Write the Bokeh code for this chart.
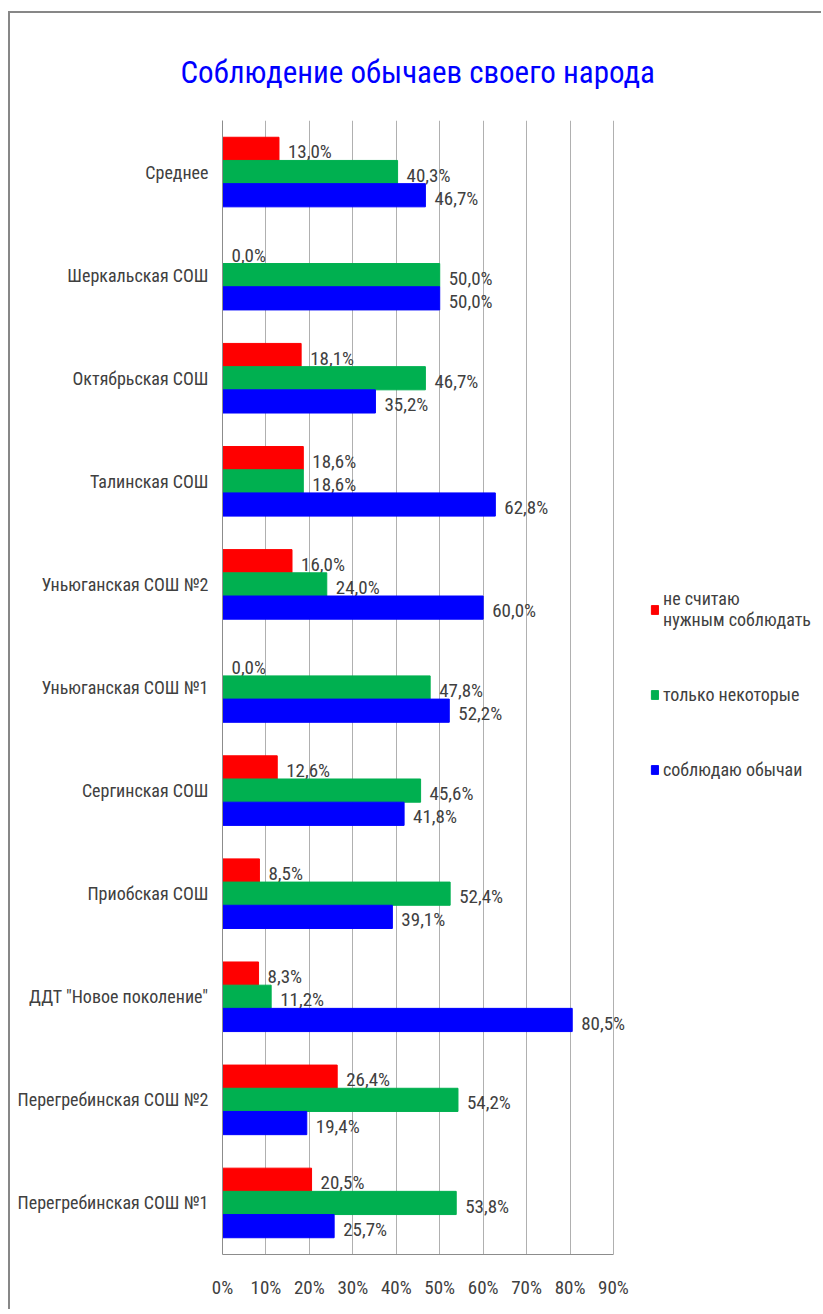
from bokeh.plotting import figure
from bokeh.models import FactorRange, Range1d, FixedTicker, Legend, LegendItem, ColumnDataSource
from bokeh.transform import dodge
from bokeh.core.properties import value
from bokeh.embed import file_html
from bokeh.resources import INLINE

FONT = "'Roboto Condensed', 'Liberation Sans Narrow', Roboto, sans-serif"

# Data (top to bottom as in the chart)
categories = [
    "Среднее",
    "Шеркальская СОШ",
    "Октябрьская СОШ",
    "Талинская СОШ",
    "Уньюганская СОШ №2",
    "Уньюганская СОШ №1",
    "Сергинская СОШ",
    "Приобская СОШ",
    'ДДТ "Новое поколение"',
    "Перегребинская СОШ №2",
    "Перегребинская СОШ №1",
]
not_needed = [13.0, 0.0, 18.1, 18.6, 16.0, 0.0, 12.6, 8.5, 8.3, 26.4, 20.5]
only_some = [40.3, 50.0, 46.7, 18.6, 24.0, 47.8, 45.6, 52.4, 11.2, 54.2, 53.8]
observe = [46.7, 50.0, 35.2, 62.8, 60.0, 52.2, 41.8, 39.1, 80.5, 19.4, 25.7]
series_names = ["не считаю\nнужным соблюдать", "только некоторые", "соблюдаю обычаи"]
series_colors = ["#FF0000", "#00B050", "#0000FF"]
x_ticks = [0, 10, 20, 30, 40, 50, 60, 70, 80, 90]


def fmt(v):
    return f"{v:.1f}%".replace(".", ",")


W, H = 813, 1298
LEFT = 212
PX_PER_UNIT = 391 / 90.0

p = figure(
    width=W, height=H,
    y_range=FactorRange(*categories[::-1]),
    x_range=Range1d(0, (W - LEFT) / PX_PER_UNIT),
    output_backend="svg", toolbar_location=None,
    min_border_left=LEFT, min_border_right=0, min_border_top=107, min_border_bottom=57,
)
p.styles = {"border-top": "2px solid #878787", "border-left": "2px solid #878787",
            "margin-left": "8px", "margin-top": "11px"}

p.title.text = "Соблюдение обычаев своего народа"
p.title.text_color = "#0000FF"
p.title.text_font = FONT
p.title.text_font_size = "31px"
p.title.text_font_style = "normal"
p.title.align = "left"
p.title.offset = -42
p.title.vertical_align = "top"
p.title.standoff = 56

offsets = [0.225, 0.0, -0.225]
renderers = []
for vals, off, col in zip([not_needed, only_some, observe], offsets, series_colors):
    src = ColumnDataSource(dict(cat=categories, v=vals, lbl=[fmt(v) for v in vals]))
    r = p.hbar(y=dodge("cat", off, range=p.y_range), right="v", left=0, height=0.225,
               source=src, fill_color=col, line_color=col)
    renderers.append(r)
    p.text(x="v", y=dodge("cat", off - 0.03, range=p.y_range), text="lbl", source=src,
           x_offset=9, text_baseline="middle", text_align="left",
           text_font=value(FONT), text_font_size="19px", text_color="#404040")

legend = Legend(
    items=[LegendItem(label=n, renderers=[r]) for n, r in zip(series_names, renderers)],
    location=(428, 474), orientation="vertical",
    glyph_width=9, glyph_height=11, spacing=54, padding=0, margin=0,
    label_text_font=FONT, label_text_font_size="18px", label_text_color="#404040",
    label_standoff=4, border_line_color=None, background_fill_alpha=0,
)
p.add_layout(legend)

p.xaxis.ticker = FixedTicker(ticks=x_ticks)
p.xaxis.major_label_overrides = {t: f"{t}%" for t in x_ticks}
p.xaxis.bounds = (0, 90)
p.xaxis.major_tick_line_color = None
p.xaxis.minor_tick_line_color = None
p.xaxis.axis_line_color = "#8c8c8c"
p.xaxis.major_label_text_font = FONT
p.xaxis.major_label_text_font_size = "19px"
p.xaxis.major_label_text_color = "#404040"
p.xaxis.major_label_standoff = 15

p.yaxis.major_tick_line_color = None
p.yaxis.axis_line_color = "#8c8c8c"
p.yaxis.major_label_text_font = FONT
p.yaxis.major_label_text_font_size = "18px"
p.yaxis.major_label_text_color = "#404040"
p.yaxis.major_label_standoff = 8

p.xgrid.grid_line_color = "#b0b0b0"
p.ygrid.grid_line_color = None
p.outline_line_color = None

open("out.html", "w").write(file_html(p, INLINE))
